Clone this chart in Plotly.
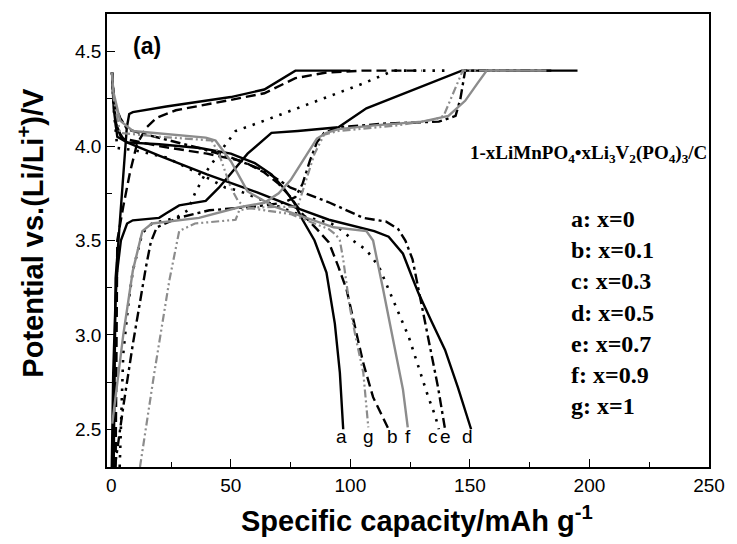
import plotly.graph_objects as go

# ---- charge / discharge curves, capacity (mAh/g) vs potential (V) ----
a_chg_cap = [1.0, 1.4, 1.8, 3.0, 5.0, 6.5, 7.5, 9, 23, 37, 50, 64, 77, 100]
a_chg_v = [2.30, 2.90, 3.30, 3.50, 3.85, 4.10, 4.17, 4.18, 4.21, 4.235, 4.26, 4.30, 4.40, 4.40]
a_dis_cap = [0.3, 1.0, 2.0, 4.0, 6.6, 20, 37, 50, 60, 67, 72, 76.5, 80, 85, 90, 93.5, 95.6, 97]
a_dis_v = [4.39, 4.25, 4.12, 4.05, 4.02, 4.01, 3.99, 3.96, 3.91, 3.85, 3.78, 3.70, 3.61, 3.50, 3.33, 3.06, 2.80, 2.50]

b_chg_cap = [1.8, 2.0, 2.5, 5.0, 7.8, 10.7, 14.8, 19, 27, 50, 64, 77, 90, 105, 130]
b_chg_v = [2.30, 2.90, 3.50, 3.68, 3.86, 4.01, 4.10, 4.15, 4.19, 4.245, 4.28, 4.36, 4.39, 4.40, 4.40]
b_dis_cap = [0.3, 1.0, 2.0, 5.0, 20, 40, 55, 64, 70, 75, 80, 86, 91, 95, 98.4, 102.5, 105.4, 109.5, 116]
b_dis_v = [4.39, 4.25, 4.10, 4.04, 4.00, 3.96, 3.92, 3.86, 3.80, 3.73, 3.64, 3.56, 3.49, 3.36, 3.24, 3.01, 2.85, 2.67, 2.50]

c_chg_cap = [3.5, 5, 7, 9, 13, 17, 27, 32, 35, 40, 45, 48, 52, 63, 78, 90, 105, 118, 140]
c_chg_v = [2.30, 2.90, 3.15, 3.34, 3.54, 3.59, 3.62, 3.66, 3.75, 3.87, 3.96, 4.01, 4.08, 4.13, 4.20, 4.26, 4.33, 4.40, 4.40]
c_dis_cap = [0.3, 1.0, 2.5, 9, 16, 23, 31, 36.7, 42, 47.8, 53, 60, 70, 80, 92, 97, 101, 106.7, 112, 116, 120, 124.4, 128.5, 132.6, 135.5, 137]
c_dis_v = [4.39, 4.20, 3.99, 3.98, 3.96, 3.94, 3.89, 3.855, 3.82, 3.78, 3.765, 3.73, 3.68, 3.63, 3.59, 3.55, 3.50, 3.45, 3.36, 3.24, 3.12, 2.99, 2.83, 2.67, 2.57, 2.50]

d_chg_cap = [0.2, 0.8, 1.8, 2.5, 4, 6.6, 9, 20, 23, 28.4, 39.5, 45, 57, 67, 78, 95, 106.7, 146.6, 195]
d_chg_v = [2.30, 2.80, 3.20, 3.34, 3.50, 3.59, 3.607, 3.62, 3.644, 3.686, 3.71, 3.78, 3.96, 4.07, 4.08, 4.10, 4.20, 4.40, 4.40]
d_dis_cap = [0.3, 1.0, 2.5, 6.6, 20, 40, 61, 78, 91, 110, 116, 122, 126, 128.5, 134, 139.6, 145, 150.5]
d_dis_v = [4.39, 4.20, 4.05, 4.02, 3.95, 3.85, 3.755, 3.67, 3.61, 3.55, 3.52, 3.43, 3.30, 3.22, 3.07, 2.92, 2.72, 2.50]

e_chg_cap = [1.5, 5, 9, 12.5, 14.5, 16.5, 19, 28, 41, 60, 72, 77, 80, 83, 86, 89, 95, 115, 137, 144, 146, 148, 185]
e_chg_v = [2.30, 2.62, 2.95, 3.22, 3.36, 3.49, 3.57, 3.62, 3.66, 3.68, 3.70, 3.73, 3.80, 3.92, 4.02, 4.07, 4.10, 4.12, 4.13, 4.16, 4.25, 4.40, 4.40]
e_dis_cap = [0.3, 0.9, 3.7, 6.6, 12, 36.7, 50, 64, 75, 91.4, 105.4, 115, 120, 123, 126, 128.5, 131.4, 134.3, 136.7, 139.6]
e_dis_v = [4.39, 4.24, 4.15, 4.09, 4.07, 3.99, 3.94, 3.87, 3.78, 3.70, 3.62, 3.60, 3.56, 3.50, 3.40, 3.24, 3.06, 2.88, 2.72, 2.50]

f_chg_cap = [0.4, 2.5, 5, 9, 13, 17, 36.7, 53, 64, 70, 75, 82, 86, 90, 95, 110, 130, 141, 148, 153, 157, 182]
f_chg_v = [2.53, 2.76, 3.00, 3.34, 3.55, 3.59, 3.62, 3.675, 3.70, 3.75, 3.82, 3.96, 4.04, 4.07, 4.09, 4.11, 4.13, 4.16, 4.24, 4.33, 4.40, 4.40]
f_dis_cap = [0.3, 0.8, 3.7, 9, 39.5, 43.6, 50, 57, 68, 82, 93, 106.7, 109.5, 113.7, 117.8, 122, 124]
f_dis_v = [4.39, 4.29, 4.135, 4.08, 4.045, 4.03, 3.92, 3.76, 3.68, 3.62, 3.57, 3.55, 3.50, 3.24, 2.97, 2.71, 2.51]

g_chg_cap = [12, 18, 24.3, 28.4, 35, 52, 53.5, 60, 78, 81, 85, 89, 95, 120, 135, 139, 143, 147, 165]
g_chg_v = [2.30, 2.80, 3.29, 3.55, 3.59, 3.61, 3.66, 3.675, 3.68, 3.80, 3.96, 4.06, 4.08, 4.11, 4.14, 4.16, 4.28, 4.40, 4.40]
g_dis_cap = [0.3, 1.0, 3.7, 20, 42, 45, 50, 53, 56, 75, 85, 91, 94, 95.6, 97, 99.7, 102.5, 105.4, 107.5]
g_dis_v = [4.39, 4.25, 4.07, 4.05, 4.03, 3.96, 3.78, 3.71, 3.675, 3.64, 3.59, 3.56, 3.53, 3.50, 3.40, 3.15, 2.97, 2.80, 2.51]

# ---- labels ----
sample_ids = ["a", "b", "c", "d", "e", "f", "g"]
x_values = ["0", "0.1", "0.3", "0.5", "0.7", "0.9", "1"]
end_label_cap = [96.4, 117.5, 134.7, 149.0, 139.6, 124.0, 107.5]
end_label_v = 2.46

BLACK = "#000000"
GREY = "#8c8c8c"
styles = {
    "a": dict(color=BLACK, dash="solid", width=2.4),
    "b": dict(color=BLACK, dash="10px,5px", width=2.4),
    "c": dict(color=BLACK, dash="2.5px,7px", width=2.6),
    "d": dict(color=BLACK, dash="solid", width=2.4),
    "e": dict(color=BLACK, dash="10px,4px,3px,4px", width=2.4),
    "f": dict(color=GREY, dash="solid", width=2.4),
    "g": dict(color=GREY, dash="8px,3px,2px,3px,2px,3px", width=2.2),
}

curves = {
    "a": (a_chg_cap, a_chg_v, a_dis_cap, a_dis_v),
    "b": (b_chg_cap, b_chg_v, b_dis_cap, b_dis_v),
    "c": (c_chg_cap, c_chg_v, c_dis_cap, c_dis_v),
    "d": (d_chg_cap, d_chg_v, d_dis_cap, d_dis_v),
    "e": (e_chg_cap, e_chg_v, e_dis_cap, e_dis_v),
    "f": (f_chg_cap, f_chg_v, f_dis_cap, f_dis_v),
    "g": (g_chg_cap, g_chg_v, g_dis_cap, g_dis_v),
}

fig = go.Figure()
for sid in sample_ids:
    cx, cy, dx, dy = curves[sid]
    st = styles[sid]
    for xs, ys in ((cx, cy), (dx, dy)):
        fig.add_trace(go.Scatter(
            x=xs, y=ys, mode="lines",
            line=dict(color=st["color"], dash=st["dash"], width=st["width"]),
            showlegend=False, hoverinfo="skip",
        ))

annotations = []
# curve end labels
for sid, cap in zip(sample_ids, end_label_cap):
    annotations.append(dict(
        x=cap, y=end_label_v, xref="x", yref="y", text=sid, showarrow=False,
        font=dict(family="Liberation Sans, Arial", size=19, color="black"),
        xanchor="center", yanchor="middle",
    ))

# composition key
key_top_v = 3.612
key_step = 0.1645
for i, (sid, xv) in enumerate(zip(sample_ids, x_values)):
    annotations.append(dict(
        x=191.5, y=key_top_v - i * key_step, xref="x", yref="y",
        text=f"<b>{sid}: x={xv}</b>", showarrow=False,
        font=dict(family="Liberation Serif, Times New Roman", size=24, color="black"),
        xanchor="left", yanchor="middle",
    ))

# formula
annotations.append(dict(
    x=199.5, y=3.96, xref="x", yref="y",
    text="<b>1-xLiMnPO<sub>4</sub>•xLi<sub>3</sub>V<sub>2</sub>(PO<sub>4</sub>)<sub>3</sub>/C</b>",
    showarrow=False,
    font=dict(family="Liberation Serif, Times New Roman", size=19, color="black"),
    xanchor="center", yanchor="middle",
))

# panel tag
annotations.append(dict(
    x=14.8, y=4.53, xref="x", yref="y", text="<b>(a)</b>", showarrow=False,
    font=dict(family="Liberation Sans, Arial", size=23, color="black"),
    xanchor="center", yanchor="middle",
))

# axis titles
annotations.append(dict(
    x=(422 - 107) / 611, y=-(519 - 467) / 454, xref="paper", yref="paper",
    text="<b>Specific capacity/mAh g<sup>-1</sup></b>", showarrow=False,
    font=dict(family="Liberation Sans, Arial", size=29, color="black"),
    xanchor="center", yanchor="middle",
))
annotations.append(dict(
    x=-(107 - 29) / 611, y=(467 - 232) / 454, xref="paper", yref="paper",
    text="<b>Potential vs.(Li/Li<sup>+</sup>)/V</b>", showarrow=False, textangle=-90,
    font=dict(family="Liberation Sans, Arial", size=29, color="black"),
    xanchor="center", yanchor="middle",
))

fig.update_layout(
    width=737, height=544,
    margin=dict(l=107, r=19, t=13, b=77),
    paper_bgcolor="white", plot_bgcolor="white",
    showlegend=False,
    annotations=annotations,
    xaxis=dict(
        range=[-1.8, 250], tickmode="linear", tick0=0, dtick=50,
        ticks="inside", ticklen=8, tickwidth=1.3, tickcolor="black",
        minor=dict(ticks="inside", ticklen=5, dtick=25, tickcolor="black", tickwidth=1.3),
        showline=True, linecolor="black", linewidth=1.6, mirror=True,
        showgrid=False, zeroline=False,
        tickfont=dict(family="Liberation Sans, Arial", size=19, color="black"),
    ),
    yaxis=dict(
        range=[2.30, 4.70], tickmode="linear", tick0=2.5, dtick=0.5, tickformat=".1f",
        ticks="inside", ticklen=8, tickwidth=1.3, tickcolor="black",
        minor=dict(ticks="inside", ticklen=5, dtick=0.25, tickcolor="black", tickwidth=1.3),
        showline=True, linecolor="black", linewidth=1.6, mirror=True,
        showgrid=False, zeroline=False,
        tickfont=dict(family="Liberation Sans, Arial", size=19, color="black"),
    ),
)

fig.write_html("out.html")
